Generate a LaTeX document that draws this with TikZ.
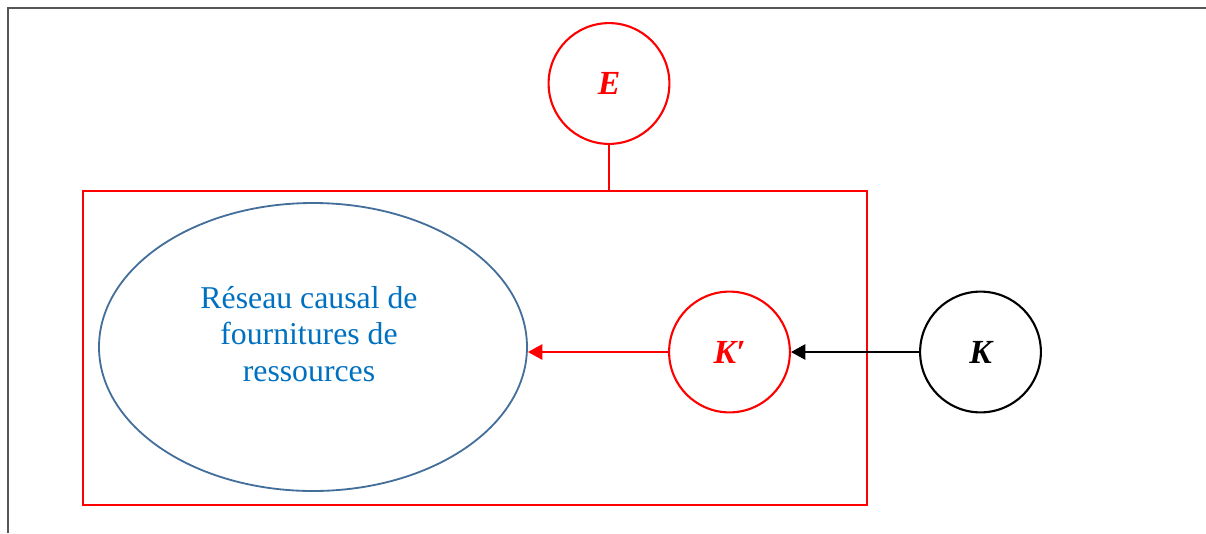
\documentclass[tikz,border=0pt]{standalone}
\usepackage{fontspec}
\setmainfont{Liberation Serif}
\usepackage{tikz}
\usetikzlibrary{arrows.meta,shapes,shapes.geometric,positioning}
\definecolor{netblue}{RGB}{68,111,155}
\definecolor{txtblue}{RGB}{0,112,192}
\definecolor{framegray}{RGB}{85,85,85}
\begin{document}
\begin{tikzpicture}[scale=0.25,
    var/.style={circle,draw,line width=1.5pt,inner sep=0pt,minimum size=3.02cm,
                font=\fontsize{24}{24}\selectfont\bfseries\itshape},
    tip/.style={-{Triangle[length=0.36cm,width=0.38cm]},line width=1.5pt}]
                \useasboundingbox (0,0) rectangle (120.6,-53.3);
                \draw [framegray,line width=1.1pt] (0.8,-53.3) -- (0.8,-0.8) -- (120.6,-0.8);
                \node [draw=red,line width=1.6pt,minimum width=19.6cm,minimum height=7.85cm] (plate) at (47.5,-34.8) {};
                \node [ellipse,draw=netblue,line width=1.3pt,minimum width=10.7cm,minimum height=7.2cm] (net) at (31.3,-34.7) {};
                \node [txtblue,align=center,font=\fontsize{22.6}{25.8}\selectfont] (nettxt) at (30.9,-33.4) {Réseau causal de\\fournitures de\\ressources};
                \node [var,red] (E) at (60.9,-8.35) {E};
                \node [var,red] (Kp) at (72.95,-35.2) {K′};
                \node [var,black] (K) at (98.05,-35.2) {K};
                \draw [red,line width=1.6pt] (E.south) -- (E.south |- plate.north);
                \draw [tip,black] (K) -- (Kp);
                \draw [tip,red] (Kp) -- (net.east |- Kp);
\end{tikzpicture}
\end{document}
